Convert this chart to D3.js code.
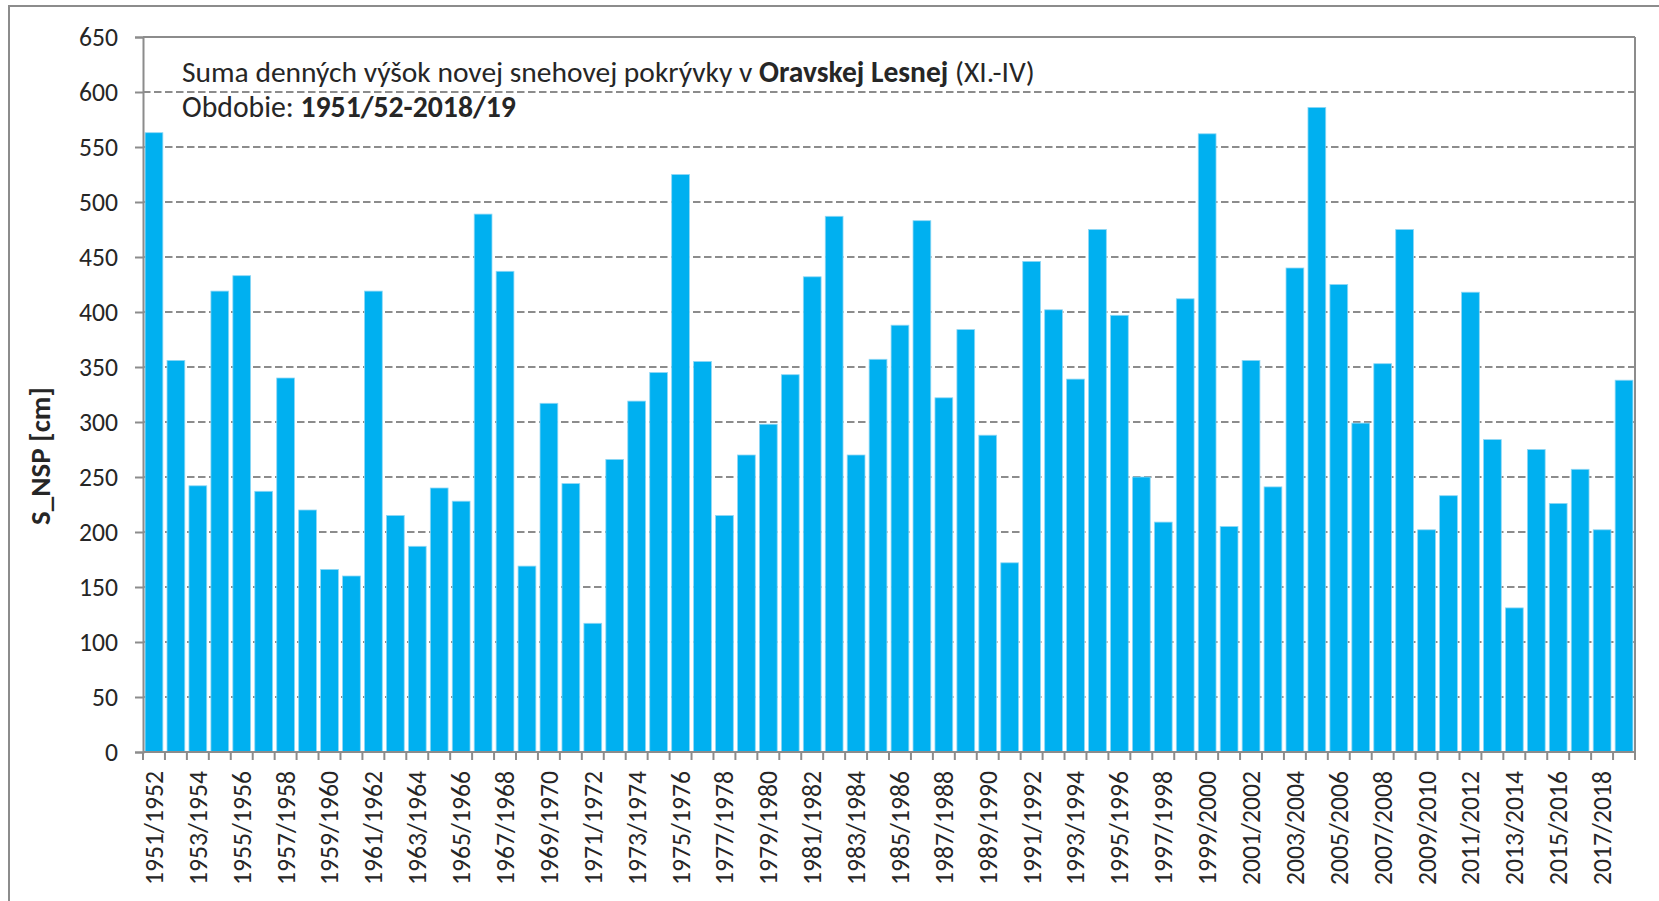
<!DOCTYPE html>
<html><head><meta charset="utf-8">
<script src="https://cdn.jsdelivr.net/npm/d3@7"></script>
<style>
html,body{margin:0;padding:0;background:#fff;overflow:hidden;}
svg{display:block;}
</style></head>
<body>
<svg id="chart" width="1659" height="901"></svg>
<script>
const categories = ["1951/1952","1952/1953","1953/1954","1954/1955","1955/1956","1956/1957","1957/1958","1958/1959","1959/1960","1960/1961",
"1961/1962","1962/1963","1963/1964","1964/1965","1965/1966","1966/1967","1967/1968","1968/1969","1969/1970","1970/1971",
"1971/1972","1972/1973","1973/1974","1974/1975","1975/1976","1976/1977","1977/1978","1978/1979","1979/1980","1980/1981",
"1981/1982","1982/1983","1983/1984","1984/1985","1985/1986","1986/1987","1987/1988","1988/1989","1989/1990","1990/1991",
"1991/1992","1992/1993","1993/1994","1994/1995","1995/1996","1996/1997","1997/1998","1998/1999","1999/2000","2000/2001",
"2001/2002","2002/2003","2003/2004","2004/2005","2005/2006","2006/2007","2007/2008","2008/2009","2009/2010","2010/2011",
"2011/2012","2012/2013","2013/2014","2014/2015","2015/2016","2016/2017","2017/2018","2018/2019"];
const values = [563,356,242,419,433,237,340,220,166,160,
419,215,187,240,228,489,437,169,317,244,
117,266,319,345,525,355,215,270,298,343,
432,487,270,357,388,483,322,384,288,172,
446,402,339,475,397,250,209,412,562,205,
356,241,440,586,425,299,353,475,202,233,
418,284,131,275,226,257,202,338];
const yTicks = [0,50,100,150,200,250,300,350,400,450,500,550,600,650];
const gridValues = [50,100,150,200,250,300,350,400,450,500,550,600];
const xTickLabels = categories.filter((d,i)=>i%2===0);
const titleLine1 = ["Suma denných výšok novej snehovej pokrývky v ", "Oravskej Lesnej", " (XI.-IV)"];
const titleLine2 = ["Obdobie: ", "1951/52-2018/19"];
const yTitle = "S_NSP [cm]";

const FONT = "Carlito, Calibri, Lato, 'Open Sans', sans-serif";
const GRAY = "#8c8c8c";
const TXT = "#262626";
const BAR = "#00B0F0";

const svg = d3.select("#chart");
const L = 143, R = 1635, T = 37, B = 752;

function fit(sel, target){
  const node = sel.node();
  const fs = parseFloat(sel.attr("font-size"));
  const w = node.getComputedTextLength();
  return fs * target / w;
}

// outer frame
svg.append("rect").attr("x",9).attr("y",6).attr("width",1700).attr("height",1000)
  .attr("fill","none").attr("stroke",GRAY).attr("stroke-width",2);

const x = d3.scaleBand().domain(categories).range([L,R]).paddingInner(0.19).paddingOuter(0.095);
const y = d3.scaleLinear().domain([0,650]).range([B,T]);
const step = x.step();

// gridlines
svg.append("g").selectAll("line").data(gridValues).join("line")
  .attr("x1",L).attr("x2",R).attr("y1",d=>y(d)).attr("y2",d=>y(d))
  .attr("stroke",GRAY).attr("stroke-width",2).attr("stroke-dasharray","7.5,3.5");

// bars
svg.append("g").selectAll("rect").data(values).join("rect")
  .attr("x",(d,i)=>x(categories[i])).attr("width",x.bandwidth())
  .attr("y",d=>y(d)).attr("height",d=>y(0)-y(d))
  .attr("fill",BAR).attr("stroke","#8fd8f5").attr("stroke-width",0.8);

// plot border (top, right)
svg.append("line").attr("x1",L).attr("x2",R).attr("y1",y(650)).attr("y2",y(650)).attr("stroke",GRAY).attr("stroke-width",2);
svg.append("line").attr("x1",R).attr("x2",R).attr("y1",y(650)).attr("y2",y(0)).attr("stroke",GRAY).attr("stroke-width",2);

// y axis
const yAxisG = svg.append("g").attr("transform",`translate(${L},0)`)
  .call(d3.axisLeft(y).tickValues(yTicks).tickSize(8).tickPadding(17).tickFormat(d3.format("d")));
yAxisG.select(".domain").attr("stroke",GRAY).attr("stroke-width",2);
yAxisG.selectAll(".tick line").attr("stroke",GRAY).attr("stroke-width",2);
yAxisG.selectAll(".tick text").attr("font-family",FONT).attr("font-size",24).attr("fill",TXT);
{
  const sample = yAxisG.selectAll(".tick text").filter(d=>d===650);
  const fs = fit(sample, 39);
  yAxisG.selectAll(".tick text").attr("font-size",fs);
}

// x axis
const xAxisG = svg.append("g").attr("transform",`translate(0,${B})`)
  .call(d3.axisBottom(x).tickValues(xTickLabels).tickSize(0).tickPadding(0));
xAxisG.select(".domain").remove();
xAxisG.selectAll(".tick line").remove();
xAxisG.append("line").attr("x1",L).attr("x2",R).attr("y1",0).attr("y2",0).attr("stroke",GRAY).attr("stroke-width",2);
// tick marks at band boundaries
const bounds = categories.map(c=>x(c) - step*x.paddingInner()/2).concat([R]);
xAxisG.append("g").selectAll("line").data(bounds).join("line")
  .attr("x1",d=>d).attr("x2",d=>d).attr("y1",0).attr("y2",8)
  .attr("stroke",GRAY).attr("stroke-width",2);
const xt = xAxisG.selectAll(".tick text")
  .attr("font-family",FONT).attr("font-size",24).attr("fill",TXT)
  .attr("transform","rotate(-90)").attr("text-anchor","end")
  .attr("x",-19).attr("y",0).attr("dy","0.35em");
{
  const sample = xt.filter((d,i)=>i===0);
  const fs = fit(sample, 114);
  xt.attr("font-size",fs);
}

// title
const t1 = svg.append("text").attr("x",182).attr("y",82).attr("font-family",FONT).attr("font-size",26).attr("fill",TXT);
t1.selectAll("tspan").data(titleLine1).join("tspan").text(d=>d).attr("font-weight",(d,i)=>i===1?"bold":"normal");
t1.attr("font-size", fit(t1, 853));
const t2 = svg.append("text").attr("x",182).attr("y",117).attr("font-family",FONT).attr("font-size",26).attr("fill",TXT);
t2.selectAll("tspan").data(titleLine2).join("tspan").text(d=>d).attr("font-weight",(d,i)=>i===1?"bold":"normal");
t2.attr("font-size", fit(t2, 334));

// y title
const yt = svg.append("text").attr("transform","translate(40,456) rotate(-90)")
  .attr("text-anchor","middle").attr("dy","0.35em")
  .attr("font-family",FONT).attr("font-size",24).attr("font-weight","bold").attr("fill",TXT).text(yTitle);
yt.attr("font-size", fit(yt, 138));
</script>
</body></html>
